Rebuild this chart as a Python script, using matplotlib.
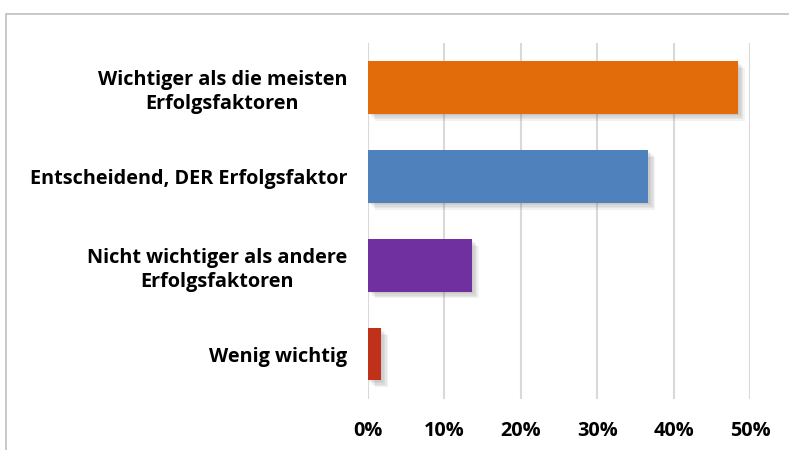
import matplotlib.pyplot as plt
import matplotlib.patheffects as pe
from matplotlib.ticker import PercentFormatter
from matplotlib.patches import Rectangle

# Daten (von oben nach unten)
kategorien = ['Wichtiger als die meisten\nErfolgsfaktoren',
              'Entscheidend, DER Erfolgsfaktor',
              'Nicht wichtiger als andere\nErfolgsfaktoren',
              'Wenig wichtig']
werte = [48.4, 36.7, 13.6, 1.7]
farben = ['#E36C0A', '#4F81BD', '#7030A0', '#C0311A']
ticks = [0, 10, 20, 30, 40, 50]

plt.rcParams['font.family'] = ['Open Sans', 'DejaVu Sans']

fig = plt.figure(figsize=(7.89, 4.5), dpi=100)
ax = fig.add_axes([368/789, 1 - 398.7/450, (750 - 368)/789, (398.7 - 43)/450])

pos = list(range(len(kategorien)))[::-1]
bars = ax.barh(pos, werte, height=0.59, color=farben, zorder=3)
# weicher Schatten nach rechts unten
schatten = [pe.SimplePatchShadow(offset=(d, -d), shadow_rgbFace='#707070', alpha=0.09)
            for d in (1, 2, 3, 4, 5)]
for b in bars:
    b.set_path_effects(schatten + [pe.Normal()])

ax.set_xlim(0, 50)
ax.set_ylim(-0.5, 3.5)
ax.set_xticks(ticks)
ax.xaxis.set_major_formatter(PercentFormatter(decimals=0))
ax.set_yticks(pos)
ax.set_yticklabels(kategorien)
for lab in ax.get_yticklabels():
    lab.set_multialignment('center')
    lab.set_linespacing(1.25)

ax.tick_params(axis='both', length=0, labelsize=14.3)
ax.tick_params(axis='y', pad=15)
ax.tick_params(axis='x', pad=16)
for lab in ax.get_xticklabels() + ax.get_yticklabels():
    lab.set_fontweight('bold')

ax.grid(axis='x', color='#D9D9D9', linewidth=1.5, zorder=0)
for s in ax.spines.values():
    s.set_visible(False)

# Rahmen des Diagramms
fig.patches.append(Rectangle((6/789, -0.1), 1.0, 1 - 14/450 + 0.1, transform=fig.transFigure,
                             fill=False, edgecolor='#BFBFBF', linewidth=1.2))

fig.savefig('out.png', dpi=100)
